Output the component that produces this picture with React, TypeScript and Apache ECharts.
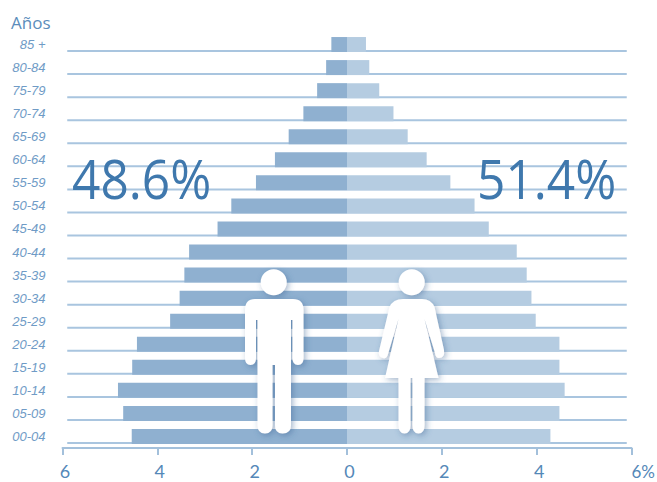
import React, { useEffect, useRef } from "react";
import * as echarts from "echarts";

const ageGroups = [
  "85 +", "80-84", "75-79", "70-74", "65-69", "60-64", "55-59", "50-54", "45-49",
  "40-44", "35-39", "30-34", "25-29", "20-24", "15-19", "10-14", "05-09", "00-04",
];
const men = [0.33, 0.44, 0.63, 0.92, 1.23, 1.52, 1.92, 2.44, 2.73, 3.33, 3.43, 3.53, 3.73, 4.43, 4.53, 4.83, 4.72, 4.54];
const women = [0.4, 0.47, 0.68, 0.98, 1.28, 1.68, 2.18, 2.69, 2.99, 3.58, 3.79, 3.89, 3.98, 4.48, 4.48, 4.59, 4.48, 4.29];
const menShare = "48.6%";
const womenShare = "51.4%";
const ruleExtent = 5.9;

const MAN_PATH =
  "M255 299 H293 Q303.5 299 303.5 310 V358 Q303.5 365 298 365 Q292.5 365 292.5 358 V320 H291 V425 " +
  "Q291 433.5 282.5 433.5 Q275 433.5 275 425 V365 H272.5 V425 Q272.5 433.5 265 433.5 Q257.5 433.5 257.5 425 " +
  "V320 H256 V358 Q256 365 250.5 365 Q245 365 245 358 V310 Q245 299 255 299 Z " +
  "M260.7 282.3 A13 13 0 1 0 286.7 282.3 A13 13 0 1 0 260.7 282.3 Z";
const WOMAN_PATH =
  "M403 299 H422 Q431 299 434.5 307 L444 350 Q445 358 439 358 Q435.5 358 435 353 L424.5 319 L438.5 378 H424.5 V425 " +
  "Q424.5 433.5 418.5 433.5 Q412.5 433.5 412.5 425 V378 H410.5 V425 Q410.5 433.5 404.5 433.5 Q398.5 433.5 398.5 425 " +
  "V378 H385 L398.5 319 L388 354 Q387 359 383 358 Q378 357 379 351 L389.5 307 Q393 299 403 299 Z " +
  "M398.7 282.3 A13 13 0 1 0 424.7 282.3 A13 13 0 1 0 398.7 282.3 Z";

echarts.graphic.registerShape("figureMan", echarts.graphic.extendPath(MAN_PATH, {}) as any);
echarts.graphic.registerShape("figureWoman", echarts.graphic.extendPath(WOMAN_PATH, {}) as any);

const silhouetteStyle = {
  fill: "#ffffff",
  shadowColor: "rgba(50,95,145,0.45)",
  shadowBlur: 6,
  shadowOffsetX: 2,
  shadowOffsetY: 2,
};

const tickLabelText = { color: "#5488b8", fontFamily: "Lato", fontSize: 18, lineHeight: 16 };

export default function App() {
  const ref = useRef<HTMLDivElement>(null);

  useEffect(() => {
    const chart = echarts.init(ref.current!, undefined, { renderer: "svg" });
    chart.setOption({
      animation: false,
      backgroundColor: "#ffffff",
      grid: { left: 62.5, right: 25.5, top: 33, bottom: 34, outerBoundsMode: "none" },
      xAxis: {
        type: "value",
        position: "bottom",
        min: -6,
        max: 6,
        interval: 2,
        splitLine: { show: false },
        axisLine: { show: true, onZero: false, lineStyle: { color: "#a3c0db", width: 2 } },
        axisTick: { show: true, length: 7, lineStyle: { color: "#a3c0db", width: 2 } },
        axisLabel: {
          ...tickLabelText,
          margin: 15,
          alignMaxLabel: "left",
          formatter: (v: number) => (v === 6 ? "{pct|6%}" : `{num|${Math.abs(v)}}`),
          rich: {
            num: { ...tickLabelText, padding: [0, 0, 0, 5] },
            pct: { ...tickLabelText, fontSize: 17 },
          },
        },
      },
      yAxis: {
        type: "category",
        inverse: true,
        data: ageGroups,
        axisLine: { show: false },
        axisTick: { show: false },
        splitLine: { show: false },
        axisLabel: {
          color: "#6f9bc6",
          fontFamily: "Liberation Sans",
          fontStyle: "italic",
          fontSize: 13,
          margin: 17,
          interval: 0,
          align: "right",
        },
      },
      series: [
        {
          // Horizontal rule under each age band, spanning both sides of the pyramid
          type: "custom",
          z: 1,
          silent: true,
          data: ageGroups.map((_, i) => [i]),
          encode: { y: 0 },
          renderItem: (_p: any, api: any) => {
            const i = api.value(0);
            const a = api.coord([-ruleExtent, i]);
            const b = api.coord([ruleExtent, i]);
            const dy = api.size([0, 1])[1] / 2 - 5;
            return {
              type: "line",
              shape: { x1: a[0], y1: a[1] + dy, x2: b[0], y2: b[1] + dy },
              style: { stroke: "#a9c5df", lineWidth: 2 },
            };
          },
        },
        {
          name: "Hombres",
          type: "bar",
          stack: "pyramid",
          z: 2,
          barWidth: 15,
          itemStyle: { color: "#8fb0d0" },
          data: men.map((v) => -v),
        },
        {
          name: "Mujeres",
          type: "bar",
          stack: "pyramid",
          z: 2,
          barWidth: 15,
          itemStyle: { color: "#b5cce1" },
          data: women,
        },
      ],
      graphic: [
        {
          type: "text",
          x: 11,
          y: 14,
          z: 10,
          style: { text: "Años", fill: "#5b8dbb", fontFamily: "Open Sans", fontSize: 17 },
        },
        {
          type: "text",
          x: 72,
          y: 151,
          scaleX: 0.92,
          z: 10,
          style: { text: menShare, fill: "#3f78ad", fontFamily: "Open Sans", fontSize: 54 },
        },
        {
          type: "text",
          x: 477,
          y: 151,
          scaleX: 0.92,
          z: 10,
          style: { text: womenShare, fill: "#3f78ad", fontFamily: "Open Sans", fontSize: 54 },
        },
        { type: "figureMan", x: 0, y: 0, z: 10, style: silhouetteStyle },
        { type: "figureWoman", x: 0, y: 0, z: 10, style: silhouetteStyle },
      ],
    });
    return () => chart.dispose();
  }, []);

  return <div ref={ref} style={{ position: "fixed", left: 0, top: 0, width: 657, height: 482 }} />;
}
